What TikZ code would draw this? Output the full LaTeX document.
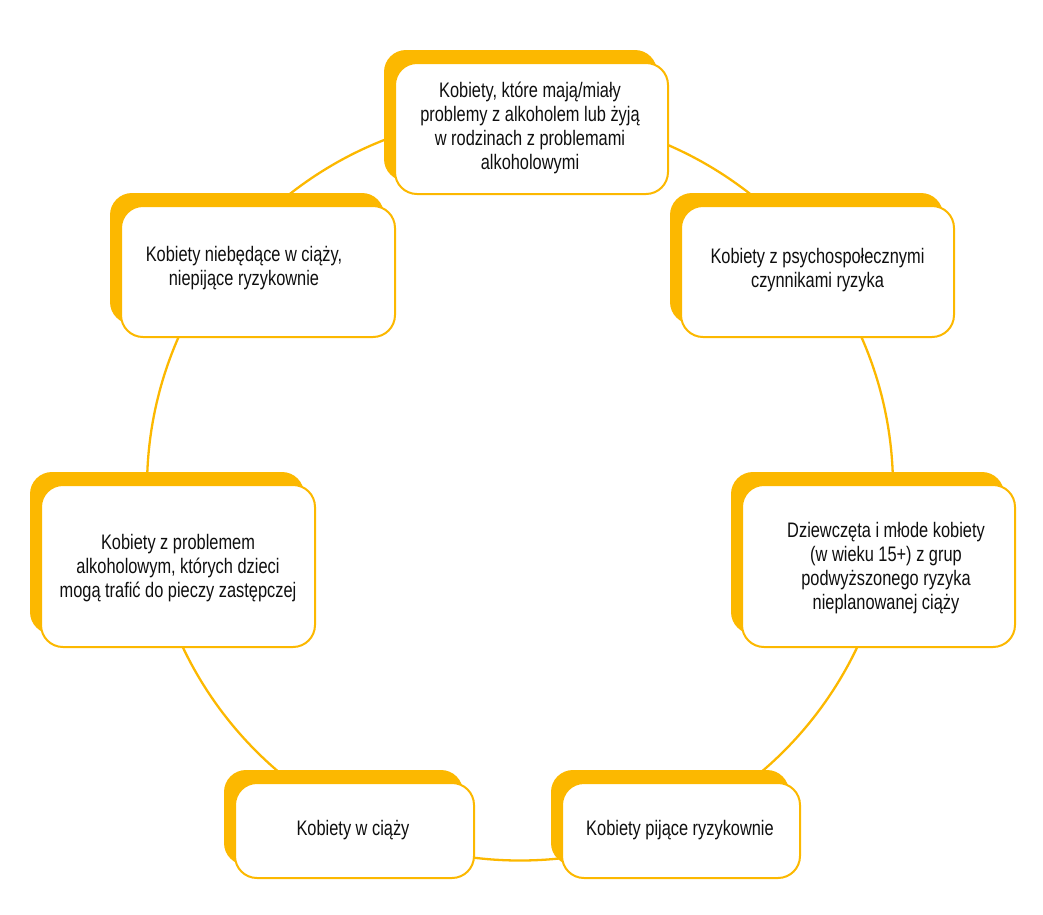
\documentclass[tikz,border=0pt]{standalone}
\usepackage{fontspec}
\setmainfont{Liberation Sans}[FakeStretch=0.78]
\usetikzlibrary{shadows}
\definecolor{gold}{RGB}{252,184,0}
\definecolor{ink}{RGB}{15,15,15}
\tikzset{
  ring/.style={draw=gold, line width=2.3pt},
  wbox/.style={draw=gold, line width=2pt, fill=white, rounded corners=22pt,
    rectangle, inner sep=0pt,
    general shadow={fill=gold, shadow xshift=-11pt, shadow yshift=13pt}},
  txt/.style={align=center, text=ink, inner sep=0pt,
    font=\fontsize{21}{24}\selectfont},
}
\begin{document}
\begin{tikzpicture}[x=1pt, y=-1pt]
\useasboundingbox (0,0) rectangle (1043,914);
\draw[ring] (520,487.5) circle[radius=373pt];
\node[wbox, minimum width=273pt, minimum height=131pt] (b1) at (531.5,128.5) {};
\node[wbox, minimum width=274pt, minimum height=131pt] (b2) at (258,271.5) {};
\node[wbox, minimum width=273pt, minimum height=131pt] (b3) at (817.5,271.5) {};
\node[wbox, minimum width=274pt, minimum height=162pt] (b4) at (178,566) {};
\node[wbox, minimum width=273pt, minimum height=162pt] (b5) at (878.5,566) {};
\node[wbox, minimum width=239pt, minimum height=95pt] (b6) at (354.5,830.5) {};
\node[wbox, minimum width=238pt, minimum height=95pt] (b7) at (681,830.5) {};
\node[txt] (t1) at (530,128) {Kobiety, które mają/miały\\problemy z alkoholem lub żyją\\w rodzinach z problemami\\alkoholowymi};
\node[txt] (t2) at (244,268) {Kobiety niebędące w ciąży,\\niepijące ryzykownie};
\node[txt] (t3) at (817.5,270) {Kobiety z psychospołecznymi\\czynnikami ryzyka};
\node[txt] (t4) at (178,568) {Kobiety z problemem\\alkoholowym, których dzieci\\mogą trafić do pieczy zastępczej};
\node[txt] (t5) at (886,568) {Dziewczęta i młode kobiety\\(w wieku 15+) z grup\\podwyższonego ryzyka\\nieplanowanej ciąży};
\node[txt] (t6) at (353,830) {Kobiety w ciąży};
\node[txt] (t7) at (680,830) {Kobiety pijące ryzykownie};
\end{tikzpicture}
\end{document}
